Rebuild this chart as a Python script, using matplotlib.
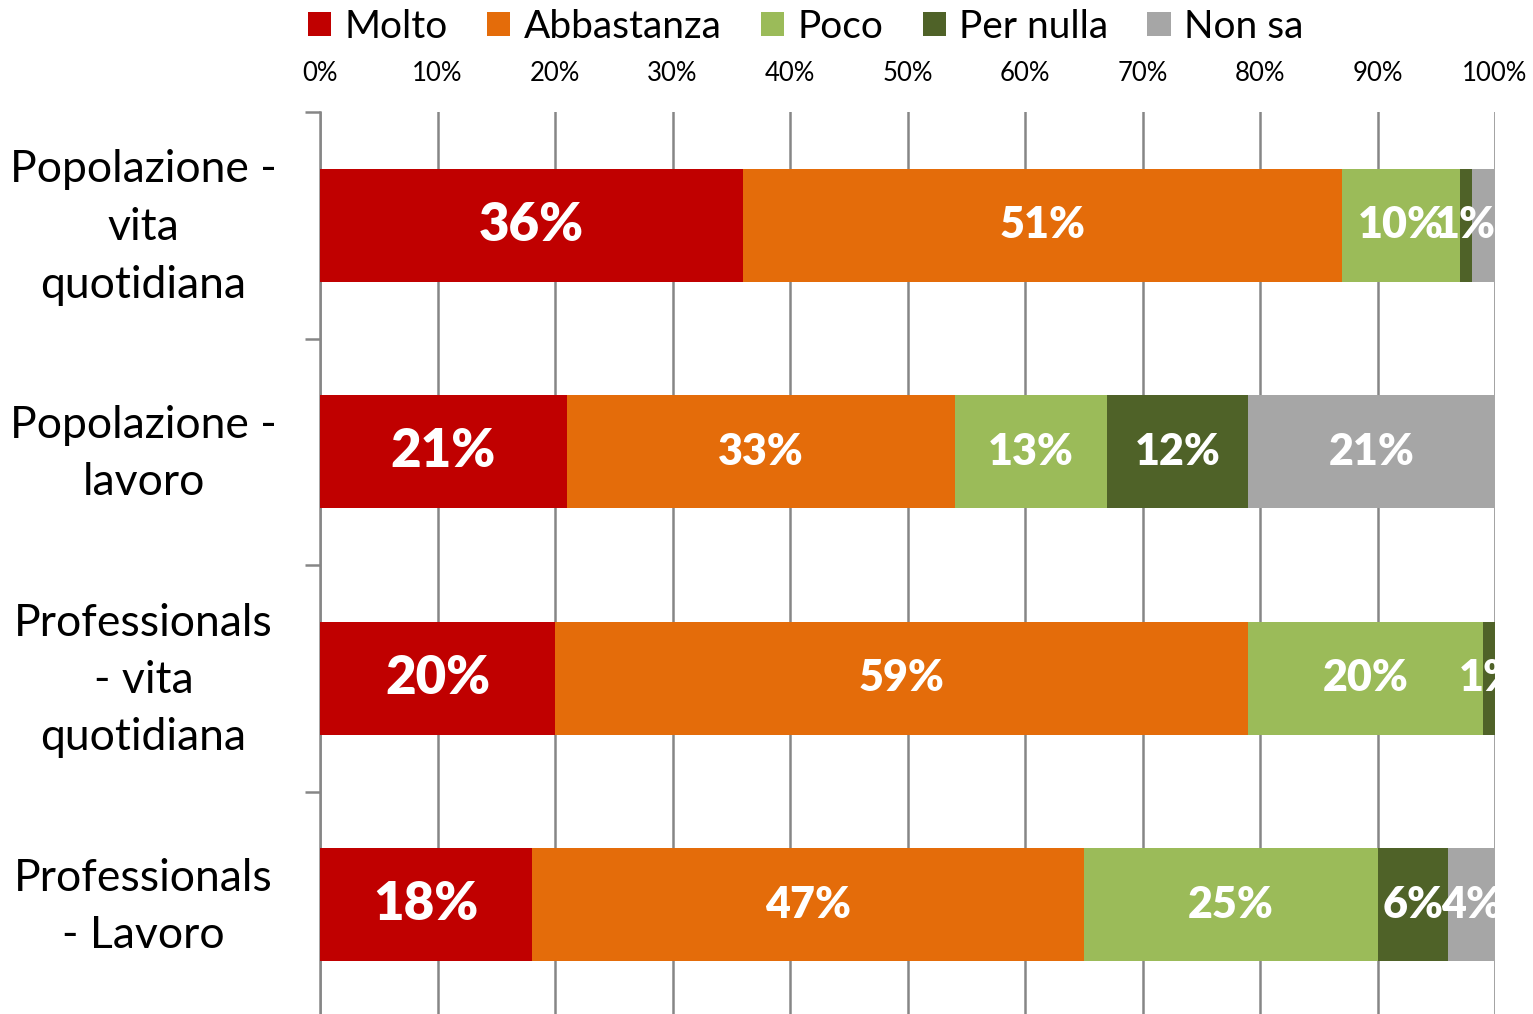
"""Stacked 100% bar chart: perception by group (Molto / Abbastanza / Poco / Per nulla / Non sa)."""

import numpy as np
import matplotlib.pyplot as plt
import matplotlib.transforms as mtransforms
from matplotlib.patches import Patch

plt.rcParams["font.family"] = ["Lato", "DejaVu Sans"]

# ── Data ──────────────────────────────────────────────────
categories = [
    "Popolazione -\nvita\nquotidiana",
    "Popolazione -\nlavoro",
    "Professionals\n- vita\nquotidiana",
    "Professionals\n- Lavoro",
]
series = ["Molto", "Abbastanza", "Poco", "Per nulla", "Non sa"]
molto = [36, 21, 20, 18]
abbastanza = [51, 33, 59, 47]
poco = [10, 13, 20, 25]
per_nulla = [1, 12, 1, 6]
non_sa = [2, 21, 0, 4]
# labels hidden in the original (tiny segments)
hidden = {("Non sa", 0), ("Non sa", 2)}

colors = ["#C00000", "#E46C0A", "#9BBB59", "#4F6228", "#A6A6A6"]
values = [molto, abbastanza, poco, per_nulla, non_sa]

# ── Plot ──────────────────────────────────────────────────
W, H = 1533, 1014
fig = plt.figure(figsize=(W / 100, H / 100), dpi=100)
ax = fig.add_axes([320 / W, 1 - 1018 / H, 1175 / W, 906 / H])

y = np.arange(len(categories))
left = np.zeros(len(categories))
for name, vals, col in zip(series, values, colors):
    vals = np.array(vals, dtype=float)
    ax.barh(y, vals, left=left, height=0.5, color=col, zorder=3, label=name)
    for i, v in enumerate(vals):
        if v <= 0 or (name, i) in hidden:
            continue
        big = name == "Molto"
        ax.text(left[i] + v / 2, y[i], f"{v:.0f}%", ha="center", va="center",
                color="white", fontweight="heavy", fontsize=38 if big else 31,
                zorder=4, clip_on=True)
    left += vals

ax.set_xlim(0, 100)
ax.set_ylim(len(categories) - 0.5, -0.5)
ax.xaxis.tick_top()
ax.set_xticks(np.arange(0, 101, 10))
ax.set_xticklabels([f"{t}%" for t in range(0, 101, 10)], fontsize=18.5)
ax.tick_params(axis="x", length=0, pad=19)
ax.grid(axis="x", color="#868686", linewidth=1.8, zorder=0)

ax.set_yticks(y)
ax.set_yticklabels(categories, fontsize=32, ha="center", linespacing=1.5)
ax.tick_params(axis="y", length=0, pad=127)
# nudge category labels up a little
shift = mtransforms.ScaledTranslation(0, 10 / 100, fig.dpi_scale_trans)
for lab in ax.get_yticklabels():
    lab.set_transform(lab.get_transform() + shift)
ax.set_yticks(np.arange(-0.5, len(categories), 1.0), minor=True)
ax.tick_params(axis="y", which="minor", length=11, width=1.8, color="#868686")

for s in ["top", "right", "bottom"]:
    ax.spines[s].set_visible(False)
ax.spines["left"].set_color("#868686")
ax.spines["left"].set_linewidth(1.8)

handles = [Patch(facecolor=c, label=s) for s, c in zip(series, colors)]
fig.legend(handles=handles, loc="upper left", bbox_to_anchor=(273 / W, 1.026),
           ncol=5, frameon=False, fontsize=28, handlelength=0.6, handleheight=0.6,
           handletextpad=0.35, columnspacing=1.0)

fig.savefig("out.png", dpi=100)
